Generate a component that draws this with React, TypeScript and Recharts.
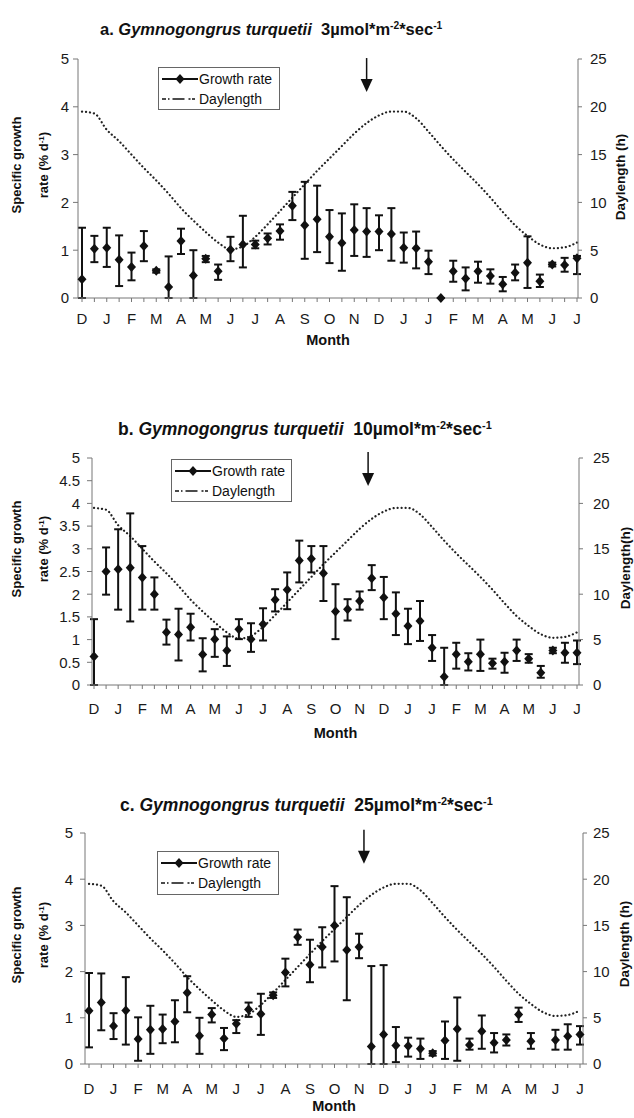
import React from "react";
import {
  ComposedChart,
  Line,
  Scatter,
  ErrorBar,
  XAxis,
  YAxis,
  ReferenceDot,
} from "recharts";

const FONT = '"Liberation Sans", Arial, sans-serif';

// month letters, one under every second sampling point
const months = ["D", "J", "F", "M", "A", "M", "J", "J", "A", "S", "O", "N", "D", "J", "J", "F", "M", "A", "M", "J", "J"];

// daylength (h) - same curve in all three panels
const daylength = [
  19.5, 19.3, 17.6, 16.4, 15.0, 13.6, 12.3, 10.9, 9.4, 8.1, 6.9, 5.8, 5.1, 5.4, 6.4, 7.7, 9.1, 10.5, 11.9, 13.3,
  14.6, 15.9, 17.2, 18.3, 19.1, 19.5, 19.5, 18.8, 17.4, 15.9, 14.5, 13.2, 11.9, 10.5, 9.0, 7.6, 6.5, 5.6, 5.2, 5.3,
  5.8,
];

// a. 3 umol
const growthA = [
  0.39, 1.03, 1.05, 0.8, 0.65, 1.09, 0.57, 0.23, 1.19, 0.47, 0.82, 0.56, 1.01, 1.12, 1.12, 1.25, 1.4, 1.93, 1.52, 1.65,
  1.28, 1.15, 1.42, 1.39, 1.39, 1.34, 1.05, 1.04, 0.76, 0.0, 0.56, 0.41, 0.56, 0.46, 0.29, 0.53, 0.74, 0.35, 0.7, 0.69,
  0.83,
];
const lowA = [
  0, 0.75, 0.65, 0.25, 0.37, 0.77, 0.53, 0, 0.92, 0, 0.75, 0.38, 0.77, 0.64, 1.04, 1.12, 1.22, 1.63, 0.82, 0.96,
  0.73, 0.57, 0.88, 0.86, 1.0, 0.78, 0.74, 0.62, 0.5, 0, 0.34, 0.16, 0.32, 0.3, 0.14, 0.37, 0.21, 0.23, 0.66, 0.55,
  0.5,
];
const highA = [
  1.47, 1.3, 1.47, 1.31, 0.95, 1.4, 0.6, 0.87, 1.45, 1.0, 0.88, 0.7, 1.28, 1.72, 1.2, 1.35, 1.54, 2.22, 2.43, 2.35,
  1.84, 1.77, 1.96, 1.88, 1.73, 1.88, 1.37, 1.39, 0.99, 0, 0.78, 0.64, 0.76, 0.6, 0.44, 0.7, 1.29, 0.49, 0.74, 0.84,
  0.88,
];

// b. 10 umol
const growthB = [
  0.63, 2.5, 2.55, 2.58, 2.37, 2.0, 1.16, 1.11, 1.27, 0.67, 1.01, 0.76, 1.23, 1.01, 1.34, 1.88, 2.1, 2.74, 2.78, 2.46,
  1.62, 1.67, 1.85, 2.35, 1.93, 1.57, 1.3, 1.41, 0.82, 0.18, 0.68, 0.51, 0.68, 0.48, 0.51, 0.76, 0.58, 0.27, 0.76, 0.71,
  0.71,
];
const lowB = [
  0, 1.99, 1.66, 1.4, 1.66, 1.66, 0.89, 0.54, 0.98, 0.3, 0.62, 0.42, 1.01, 0.73, 0.98, 1.62, 1.67, 2.26, 2.48, 1.85,
  1.01, 1.42, 1.66, 2.09, 1.45, 1.1, 0.9, 0.97, 0.53, 0, 0.36, 0.32, 0.31, 0.36, 0.27, 0.53, 0.49, 0.16, 0.7, 0.49,
  0.46,
];
const highB = [
  1.45, 3.03, 3.43, 3.78, 3.06, 2.37, 1.44, 1.68, 1.57, 1.03, 1.23, 1.07, 1.45, 1.36, 1.69, 2.11, 2.48, 3.18, 3.06, 3.06,
  2.22, 1.89, 2.06, 2.64, 2.38, 2.04, 1.68, 1.85, 1.1, 0.82, 0.93, 0.7, 1.0, 0.58, 0.71, 1.0, 0.68, 0.42, 0.82, 0.93,
  0.98,
];

// c. 25 umol (one sample missing)
const growthC = [
  1.15, 1.33, 0.82, 1.16, 0.54, 0.74, 0.76, 0.92, 1.54, 0.61, 1.07, 0.55, 0.87, 1.18, 1.08, 1.49, 1.98, 2.75, 2.15, 2.53,
  3.0, 2.47, 2.53, 0.38, 0.64, 0.4, 0.39, 0.33, 0.23, 0.51, 0.76, 0.41, 0.71, 0.46, 0.52, 1.07, 0.49, null, 0.52, 0.6,
  0.64,
];
const lowC = [
  0.36, 0.73, 0.54, 0.42, 0.07, 0.22, 0.45, 0.47, 1.12, 0.22, 0.9, 0.3, 0.67, 1.02, 0.63, 1.43, 1.68, 2.58, 1.77, 2.09,
  2.22, 1.38, 2.29, 0, 0, 0.04, 0.16, 0.11, 0.18, 0.11, 0.07, 0.31, 0.33, 0.25, 0.4, 0.91, 0.33, null, 0.31, 0.31,
  0.42,
];
const highC = [
  1.97, 1.96, 1.1, 1.88, 1.01, 1.26, 1.07, 1.38, 1.9, 1.0, 1.21, 0.78, 0.95, 1.33, 1.52, 1.55, 2.28, 2.91, 2.69, 2.96,
  3.85, 3.61, 2.82, 2.12, 2.14, 0.8, 0.57, 0.55, 0.28, 0.92, 1.44, 0.55, 1.05, 0.67, 0.64, 1.22, 0.67, null, 0.74, 0.86,
  0.82,
];

const xTicks = daylength.map((_, i) => i);
const leftTicksWhole = [0, 1, 2, 3, 4, 5];
const leftTicksHalf = [0, 0.5, 1, 1.5, 2, 2.5, 3, 3.5, 4, 4.5, 5];
const rightTicks = [0, 5, 10, 15, 20, 25];

function buildRows(growth: (number | null)[], low: (number | null)[], high: (number | null)[]) {
  return xTicks.map((i) => {
    const g = growth[i];
    return {
      i,
      day: daylength[i],
      g,
      err: g == null ? null : [g - (low[i] as number), (high[i] as number) - g],
    };
  });
}

const Diamond = (p: any) => {
  const { cx, cy } = p;
  if (cx == null || cy == null || isNaN(cy)) return null;
  return (
    <polygon
      points={`${cx},${cy - 5} ${cx + 4.5},${cy} ${cx},${cy + 5} ${cx - 4.5},${cy}`}
      fill="#111"
    />
  );
};

const Arrow = (p: any) => {
  const { cx, cy } = p;
  return (
    <g>
      <line x1={cx} y1={cy} x2={cx} y2={cy + 24} stroke="#111" strokeWidth={1.5} />
      <polygon points={`${cx - 6},${cy + 21} ${cx + 6},${cy + 21} ${cx},${cy + 34}`} fill="#111" />
    </g>
  );
};

const Sup = ({ children }: { children: React.ReactNode }) => (
  <span style={{ fontSize: "0.62em", verticalAlign: "0.55em" }}>{children}</span>
);

function LegendBox({ x, y, w, h }: { x: number; y: number; w: number; h: number }) {
  return (
    <div
      style={{
        position: "absolute",
        left: x,
        top: y,
        width: w,
        height: h,
        boxSizing: "border-box",
        border: "1px solid #666",
        background: "#fff",
        fontFamily: FONT,
        fontSize: 14,
        color: "#111",
        padding: "1px 3px",
      }}>
      <div style={{ display: "flex", alignItems: "center", height: 20 }}>
        <svg width={36} height={14}>
          <line x1={0} y1={7} x2={36} y2={7} stroke="#111" strokeWidth={2} />
          <polygon points="18,2 22.5,7 18,12 13.5,7" fill="#111" />
        </svg>
        <span style={{ marginLeft: 1 }}>Growth rate</span>
      </div>
      <div style={{ display: "flex", alignItems: "center", height: 20 }}>
        <svg width={36} height={14}>
          <line x1={0} y1={7} x2={36} y2={7} stroke="#111" strokeWidth={1.5} strokeDasharray="4 2 1.5 3 12" />
        </svg>
        <span style={{ marginLeft: 1 }}>Daylength</span>
      </div>
    </div>
  );
}

type Panel = {
  letter: string;
  dose: string;
  growth: (number | null)[];
  low: (number | null)[];
  high: (number | null)[];
  plotTop: number;
  plotBottom: number;
  axisL: number;
  axisR: number;
  padL: number;
  padR: number;
  leftTicks: number[];
  leftGap: number;
  rightGap: number;
  xGap: number;
  arrowAt: number;
  arrowTop: number;
  legend: { x: number; y: number; w: number; h: number };
  titleX: number;
  titleY: number;
  titleSize: number;
  leftTitleY: number;
  rightTitle: string;
  rightTitleX: number;
  rightTitleY: number;
  monthY: number;
};

const panels: Panel[] = [
  {
    letter: "a.", dose: "3µmol*m", growth: growthA, low: lowA, high: highA,
    plotTop: 59, plotBottom: 298, axisL: 78, axisR: 578, padL: 4, padR: 1,
    leftTicks: leftTicksWhole, leftGap: 4, rightGap: 8, xGap: 11,
    arrowAt: 23, arrowTop: 5.02,
    legend: { x: 158, y: 67, w: 122, h: 43 },
    titleX: 100, titleY: 30, titleSize: 16.5,
    leftTitleY: 165, rightTitle: "Daylength (h)", rightTitleX: 620, rightTitleY: 177, monthY: 341,
  },
  {
    letter: "b.", dose: "10µmol*m", growth: growthB, low: lowB, high: highB,
    plotTop: 458, plotBottom: 685, axisL: 92, axisR: 579, padL: 2, padR: 2,
    leftTicks: leftTicksHalf, leftGap: 7, rightGap: 10, xGap: 14,
    arrowAt: 22.7, arrowTop: 5.13,
    legend: { x: 171, y: 459, w: 121, h: 43 },
    titleX: 118, titleY: 429, titleSize: 17.5,
    leftTitleY: 549, rightTitle: "Daylength(h)", rightTitleX: 625, rightTitleY: 568, monthY: 734,
  },
  {
    letter: "c.", dose: "25µmol*m", growth: growthC, low: lowC, high: highC,
    plotTop: 833, plotBottom: 1064, axisL: 85, axisR: 583, padL: 4, padR: 3,
    leftTicks: leftTicksWhole, leftGap: 7, rightGap: 6, xGap: 15,
    arrowAt: 22.4, arrowTop: 5.07,
    legend: { x: 157, y: 851, w: 122, h: 44 },
    titleX: 120, titleY: 805, titleSize: 17.5,
    leftTitleY: 935, rightTitle: "Daylength (h)", rightTitleX: 624, rightTitleY: 944, monthY: 1107,
  },
];

const tickStyle = { fontSize: 15, fill: "#1a1a1a", fontFamily: FONT };
const axisStroke = { stroke: "#777" };

function GrowthPanel({ p }: { p: Panel }) {
  const rows = buildRows(p.growth, p.low, p.high);
  const points = rows.filter((r) => r.g != null);
  const top = p.plotTop - 50;
  const height = p.plotBottom - top + 45;

  return (
    <>
      <div
        style={{
          position: "absolute",
          left: p.titleX,
          top: p.titleY - p.titleSize * 0.6,
          fontFamily: FONT,
          fontWeight: "bold",
          fontSize: p.titleSize,
          lineHeight: 1.2,
          whiteSpace: "nowrap",
          color: "#111",
        }}>
        {p.letter} <i>Gymnogongrus turquetii</i>&nbsp; {p.dose}
        <Sup>-2</Sup>*sec<Sup>-1</Sup>
      </div>

      <div style={{ position: "absolute", left: 0, top }}>
        <ComposedChart
          width={634}
          height={height}
          data={rows}
          margin={{ top: 50, bottom: 5, left: p.axisL - 40, right: 634 - p.axisR - 40 }}>
          <XAxis
            type="number"
            dataKey="i"
            domain={[0, 40]}
            ticks={xTicks}
            interval={0}
            padding={{ left: p.padL, right: p.padR }}
            tickFormatter={(v: number) => (v % 2 === 0 ? months[v / 2] : "")}
            tick={tickStyle}
            tickSize={4}
            tickMargin={p.xGap}
            axisLine={axisStroke}
            tickLine={axisStroke}
            height={40}
          />
          <YAxis
            yAxisId="left"
            domain={[0, 5]}
            ticks={p.leftTicks}
            interval={0}
            tick={tickStyle}
            tickSize={5}
            tickMargin={p.leftGap}
            axisLine={axisStroke}
            tickLine={axisStroke}
            width={40}
          />
          <YAxis
            yAxisId="right"
            orientation="right"
            domain={[0, 25]}
            ticks={rightTicks}
            interval={0}
            tick={{ ...tickStyle, textAnchor: "start" }}
            tickSize={4}
            tickMargin={p.rightGap}
            axisLine={axisStroke}
            tickLine={axisStroke}
            width={40}
          />
          <Line
            yAxisId="right"
            dataKey="day"
            type="monotone"
            stroke="#222"
            strokeWidth={2.2}
            strokeDasharray="0.1 3.9"
            strokeLinecap="round"
            dot={false}
            isAnimationActive={false}
          />
          <Scatter
            yAxisId="left"
            data={points}
            dataKey="g"
            shape={Diamond}
            isAnimationActive={false}>
            <ErrorBar dataKey="err" direction="y" width={4} stroke="#111" strokeWidth={2} />
          </Scatter>
          <ReferenceDot
            yAxisId="left"
            x={p.arrowAt}
            y={p.arrowTop}
            ifOverflow="visible"
            shape={Arrow}
          />
        </ComposedChart>
      </div>

      <LegendBox {...p.legend} />

      {/* axis titles */}
      <div
        style={{
          position: "absolute",
          left: 30,
          top: p.leftTitleY,
          transform: "translate(-50%, -50%) rotate(-90deg)",
          fontFamily: FONT,
          fontWeight: "bold",
          fontSize: 13,
          lineHeight: "25px",
          textAlign: "center",
          whiteSpace: "nowrap",
          color: "#111",
        }}>
        Specific growth
        <br />
        rate (% d<Sup>-1</Sup>)
      </div>
      <div
        style={{
          position: "absolute",
          left: p.rightTitleX,
          top: p.rightTitleY,
          transform: "translate(-50%, -50%) rotate(-90deg)",
          fontFamily: FONT,
          fontWeight: "bold",
          fontSize: 13.5,
          whiteSpace: "nowrap",
          color: "#111",
        }}>
        {p.rightTitle}
      </div>
      <div
        style={{
          position: "absolute",
          left: (p.axisL + p.axisR) / 2,
          top: p.monthY,
          transform: "translate(-50%, -50%)",
          fontFamily: FONT,
          fontWeight: "bold",
          fontSize: 14.5,
          lineHeight: 1.1,
          color: "#111",
        }}>
        Month
      </div>
    </>
  );
}

export default function App() {
  return (
    <div
      style={{
        position: "absolute",
        left: 0,
        top: 0,
        width: 634,
        height: 1118,
        background: "#fff",
        overflow: "hidden",
      }}>
      {panels.map((p) => (
        <GrowthPanel key={p.letter} p={p} />
      ))}
    </div>
  );
}
